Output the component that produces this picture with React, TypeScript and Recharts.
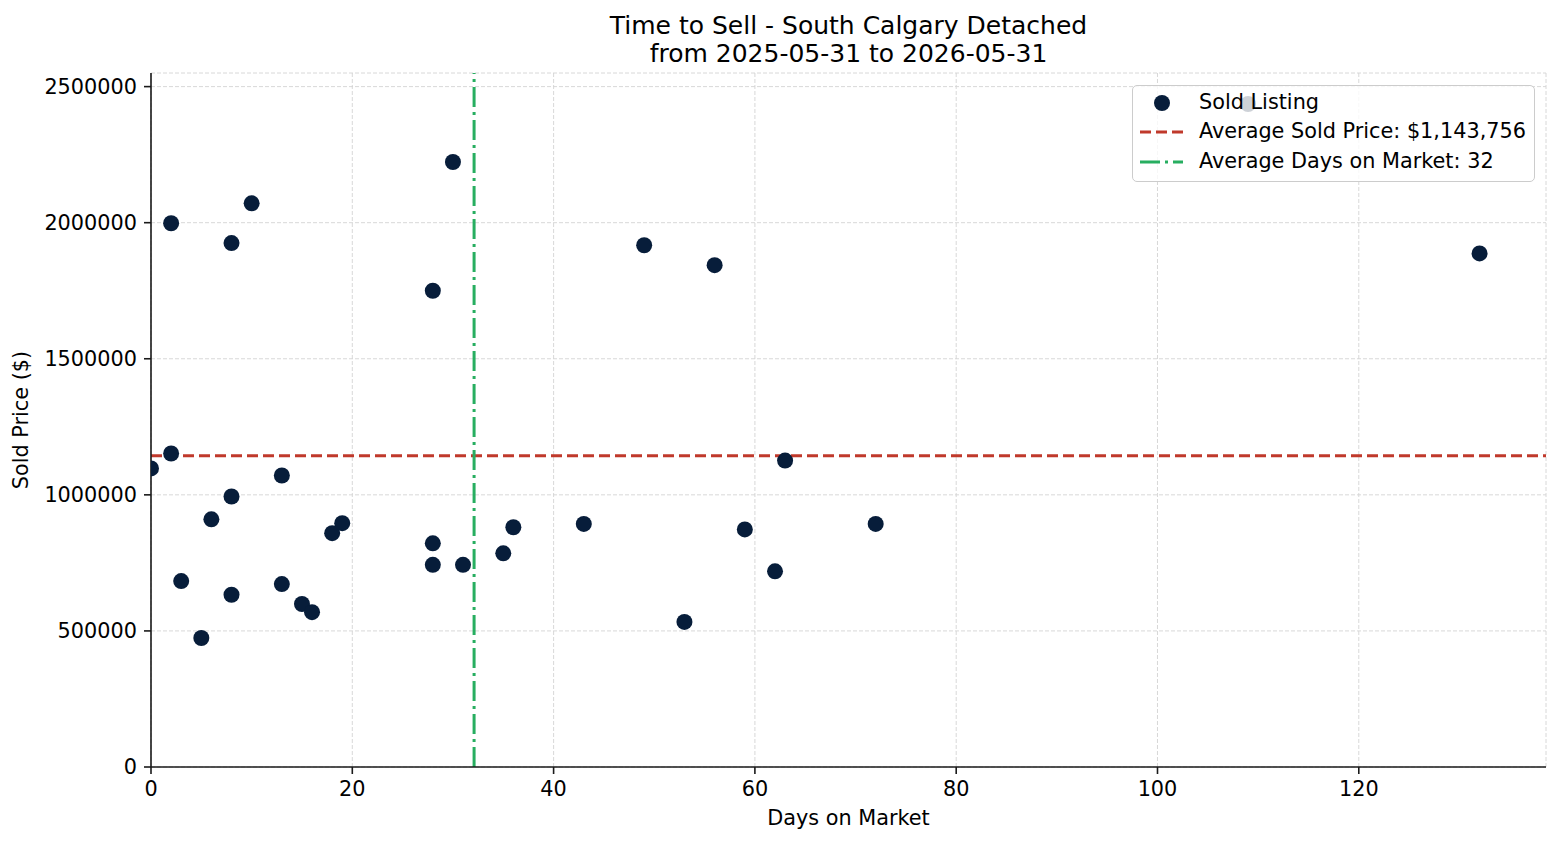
import React from 'react';
import { ScatterChart, Scatter, XAxis, YAxis, CartesianGrid, ReferenceLine, Legend } from 'recharts';

const days = [0, 2, 2, 8, 10, 8, 6, 3, 5, 8, 13, 13, 15, 16, 18, 19, 28, 30, 28, 28, 31, 35, 36, 43, 49, 56, 53, 59, 62, 63, 72, 132, 109];
const prices = [1097000, 1152000, 1998000, 1925000, 2071000, 994000, 910000, 683000, 474000, 633000, 1071000, 672000, 599000, 569000, 859000, 896000, 1750000, 2223000, 822000, 743000, 743000, 785000, 881000, 893000, 1917000, 1844000, 533000, 873000, 719000, 1126000, 893000, 1887000, 2436000];
const xTicks = [0, 20, 40, 60, 80, 100, 120];
const yTicks = [0, 500000, 1000000, 1500000, 2000000, 2500000];
const avgPrice = 1143756;
const avgDays = 32.1;
const titleLines = ['Time to Sell - South Calgary Detached', 'from 2025-05-31 to 2026-05-31'];
const legendLabels = ['Sold Listing', 'Average Sold Price: $1,143,756', 'Average Days on Market: 32'];
const xLabel = 'Days on Market';
const yLabel = 'Sold Price ($)';

const data = days.map((d, i) => ({ days: d, price: prices[i] }));

const DOT = '#071d3a';
const RED = '#c0392b';
const GREEN = '#27ae60';
const FONT = '"DejaVu Sans", sans-serif';
const FS = 20.8;

const renderLegend = () => (
  <div
    style={{
      boxSizing: 'border-box',
      width: 403,
      height: 97,
      border: '1.3px solid #cccccc',
      borderRadius: 5,
      background: 'rgba(255,255,255,0.8)',
      paddingTop: 1.5,
      fontFamily: FONT,
      fontSize: FS,
      color: '#000',
    }}
  >
    {legendLabels.map((lab, i) => (
      <div key={i} style={{ height: 29.7, lineHeight: '29.7px', display: 'flex', alignItems: 'center', whiteSpace: 'nowrap' }}>
        <svg width={44} height={29.7} style={{ marginLeft: 7, flex: 'none' }}>
          {i === 0 && <circle cx={22} cy={15} r={8} fill={DOT} />}
          {i === 1 && <line x1={0} x2={43} y1={15} y2={15} stroke={RED} strokeWidth={3} strokeDasharray="11 5" />}
          {i === 2 && <line x1={0} x2={43} y1={15} y2={15} stroke={GREEN} strokeWidth={3} strokeDasharray="20 5 3 5" />}
        </svg>
        <span style={{ marginLeft: 15 }}>{lab}</span>
      </div>
    ))}
  </div>
);

export default function App() {
  return (
    <div style={{ position: 'absolute', left: 0, top: 0, width: 1560, height: 845, background: '#fff', fontFamily: FONT }}>
      <div style={{ position: 'absolute', left: 0, top: 12, width: 1697, textAlign: 'center', fontSize: 25, lineHeight: '28.4px', color: '#000', fontFamily: FONT }}>
        {titleLines.map((t, i) => (
          <div key={i}>{t}</div>
        ))}
      </div>
      <ScatterChart width={1560} height={845} margin={{ top: 73, right: 14, bottom: 0, left: 11 }}>
        <CartesianGrid stroke="#d4d4d4" strokeWidth={0.9} strokeDasharray="4 2" />
        <XAxis
          type="number"
          dataKey="days"
          domain={[0, 138.6]}
          ticks={xTicks}
          allowDataOverflow
          height={78}
          tickSize={7}
          tickMargin={7}
          axisLine={{ stroke: '#1a1a1a', strokeWidth: 1.6 }}
          tickLine={{ stroke: '#1a1a1a', strokeWidth: 1.6 }}
          tick={{ fill: '#000', fontSize: FS, fontFamily: FONT }}
          label={{ value: xLabel, position: 'insideBottom', offset: 20, fill: '#000', fontSize: FS, fontFamily: FONT }}
        />
        <YAxis
          type="number"
          dataKey="price"
          domain={[0, 2550000]}
          ticks={yTicks}
          allowDataOverflow
          width={140}
          tickSize={7}
          tickMargin={7}
          axisLine={{ stroke: '#1a1a1a', strokeWidth: 1.6 }}
          tickLine={{ stroke: '#1a1a1a', strokeWidth: 1.6 }}
          tick={{ fill: '#000', fontSize: FS, fontFamily: FONT }}
          label={{ value: yLabel, angle: -90, position: 'insideLeft', offset: 10, fill: '#000', fontSize: FS, fontFamily: FONT, style: { textAnchor: 'middle' } }}
        />
        <Scatter
          name="Sold Listing"
          data={data}
          isAnimationActive={false}
          fill={DOT}
          shape={(p: any) => <circle cx={p.cx} cy={p.cy} r={8} fill={DOT} />}
        />
        <ReferenceLine y={avgPrice} stroke={RED} strokeWidth={3} strokeDasharray="11 5" />
        <ReferenceLine x={avgDays} stroke={GREEN} strokeWidth={3} strokeDasharray="20 5 3 5" />
        <Legend
          layout="vertical"
          align="center"
          verticalAlign="middle"
          content={renderLegend}
          wrapperStyle={{ left: 1132, top: 85, width: 403, height: 97, right: 'auto', bottom: 'auto' }}
        />
      </ScatterChart>
    </div>
  );
}
